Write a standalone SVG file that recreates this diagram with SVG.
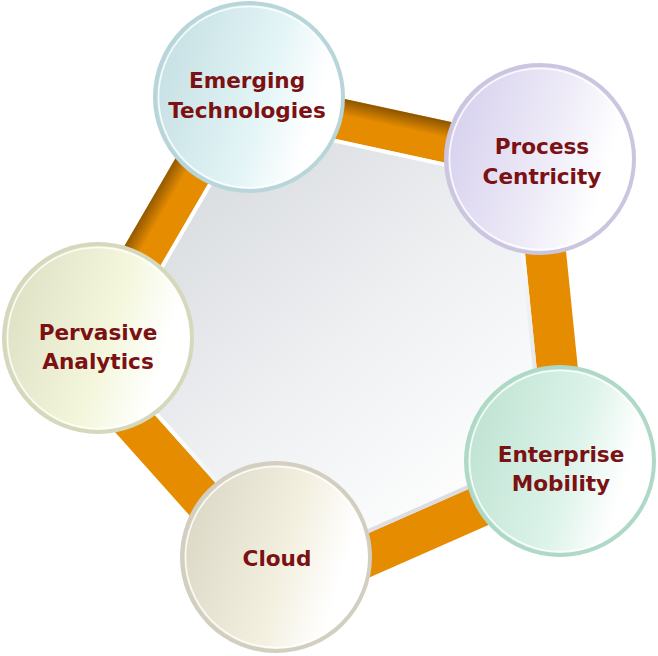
<svg xmlns="http://www.w3.org/2000/svg" width="658" height="656" viewBox="0 0 658 656">
<style>
.lbl{font-family:"DejaVu Sans","Liberation Sans",sans-serif;font-weight:bold;font-size:21.6px;fill:#7b1113;text-anchor:middle}
.rim{stroke-width:4}
.hl{fill:none;stroke:#ffffff;stroke-width:1.6;stroke-opacity:0.85}
</style>
<defs>
<linearGradient id="gFill" gradientUnits="userSpaceOnUse" x1="150" y1="150" x2="470" y2="530">
<stop offset="0" stop-color="#d5d8dc"/>
<stop offset="0.55" stop-color="#eef0f2"/>
<stop offset="1" stop-color="#ffffff"/>
</linearGradient>
<linearGradient id="gEdge" gradientUnits="userSpaceOnUse" x1="200" y1="150" x2="460" y2="560">
<stop offset="0" stop-color="#ffffff"/>
<stop offset="0.45" stop-color="#ffffff"/>
<stop offset="1" stop-color="#d0d3da"/>
</linearGradient>
<linearGradient id="shTop" gradientUnits="userSpaceOnUse" x1="390.1" y1="108.9" x2="386.6" y2="125">
<stop offset="0" stop-color="#6e4300" stop-opacity="0.75"/>
<stop offset="1" stop-color="#6e4300" stop-opacity="0"/>
</linearGradient>
<linearGradient id="shLeft" gradientUnits="userSpaceOnUse" x1="140.1" y1="219.2" x2="154.3" y2="227.4">
<stop offset="0" stop-color="#6e4300" stop-opacity="0.7"/>
<stop offset="1" stop-color="#6e4300" stop-opacity="0"/>
</linearGradient>
<linearGradient id="cE" x1="0" y1="0.35" x2="1" y2="0.65">
<stop offset="0" stop-color="#c6e0e3"/>
<stop offset="0.55" stop-color="#e2f4f6"/>
<stop offset="0.85" stop-color="#ffffff"/>
</linearGradient>
<linearGradient id="cP" x1="0" y1="0.35" x2="1" y2="0.65">
<stop offset="0" stop-color="#d7d1ee"/>
<stop offset="0.55" stop-color="#efecf8"/>
<stop offset="0.85" stop-color="#ffffff"/>
</linearGradient>
<linearGradient id="cM" x1="0" y1="0.35" x2="1" y2="0.65">
<stop offset="0" stop-color="#bfe3d3"/>
<stop offset="0.55" stop-color="#dcf3e9"/>
<stop offset="0.85" stop-color="#ffffff"/>
</linearGradient>
<linearGradient id="cC" x1="0" y1="0.35" x2="1" y2="0.65">
<stop offset="0" stop-color="#dcd8c6"/>
<stop offset="0.55" stop-color="#f3f0e0"/>
<stop offset="0.85" stop-color="#ffffff"/>
</linearGradient>
<linearGradient id="cA" x1="0" y1="0.35" x2="1" y2="0.65">
<stop offset="0" stop-color="#dfe1c5"/>
<stop offset="0.55" stop-color="#f4f7dc"/>
<stop offset="0.85" stop-color="#ffffff"/>
</linearGradient>
</defs>

<g id="connectors">
<polygon points="235.3,96.3 536.3,161.4 567.4,467.8 285.6,592.1 80.3,362.5" fill="url(#gFill)"/>
<polygon points="235.3,96.3 536.3,161.4 567.4,467.8 285.6,592.1 80.3,362.5" fill="none" stroke="#e68c00" stroke-width="41" stroke-linejoin="miter"/>
<polygon points="239.6,76.3 540.6,141.4 537.1,157.5 236.1,92.4" fill="url(#shTop)"/>
<polygon points="217.6,86 62.6,352.2 76.8,360.5 231.8,94.3" fill="url(#shLeft)"/>
<polygon points="246.5,121.7 515.6,179.9 543.4,453.8 291.5,564.9 108,359.7" fill="none" stroke="url(#gEdge)" stroke-width="4" stroke-linejoin="miter"/>
</g>

<g id="node-emerging">
<circle cx="249" cy="97" r="94" fill="url(#cE)" stroke="#b8d6d9" class="rim"/>
<circle cx="249" cy="97" r="90.5" class="hl"/>
<text class="lbl" x="247" y="88">Emerging</text>
<text class="lbl" x="247" y="118">Technologies</text>
</g>

<g id="node-process">
<circle cx="540" cy="159" r="94" fill="url(#cP)" stroke="#cbc5df" class="rim"/>
<circle cx="540" cy="159" r="90.5" class="hl"/>
<text class="lbl" x="542" y="154">Process</text>
<text class="lbl" x="542" y="184">Centricity</text>
</g>

<g id="node-mobility">
<circle cx="560" cy="461" r="94" fill="url(#cM)" stroke="#afd9c7" class="rim"/>
<circle cx="560" cy="461" r="90.5" class="hl"/>
<text class="lbl" x="561" y="462">Enterprise</text>
<text class="lbl" x="561" y="491">Mobility</text>
</g>

<g id="node-cloud">
<circle cx="276" cy="557" r="94" fill="url(#cC)" stroke="#d3cfc0" class="rim"/>
<circle cx="276" cy="557" r="90.5" class="hl"/>
<text class="lbl" x="277" y="566">Cloud</text>
</g>

<g id="node-analytics">
<circle cx="98" cy="338" r="94" fill="url(#cA)" stroke="#d5d8bb" class="rim"/>
<circle cx="98" cy="338" r="90.5" class="hl"/>
<text class="lbl" x="98" y="340">Pervasive</text>
<text class="lbl" x="98" y="369">Analytics</text>
</g>
</svg>
